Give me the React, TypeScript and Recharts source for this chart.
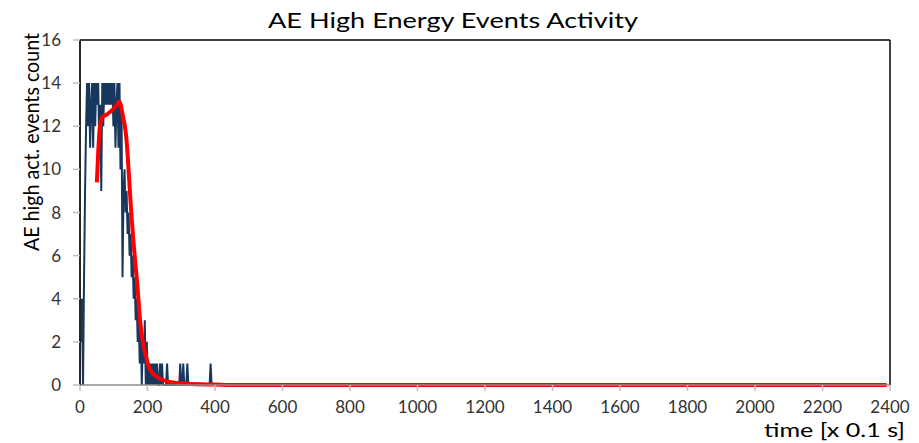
import React from 'react';
import { LineChart, Line, XAxis, YAxis, ReferenceLine, Label } from 'recharts';

// ---- data ----
const TITLE = 'AE High Energy Events Activity';
const Y_LABEL = 'AE high act. events count';
const X_LABEL = 'time [x 0.1 s]';

const xTicks = [0, 200, 400, 600, 800, 1000, 1200, 1400, 1600, 1800, 2000, 2200, 2400];
const yTicks = [0, 2, 4, 6, 8, 10, 12, 14, 16];

// raw counts, one sample every BLUE_STEP time units starting at t = 0
const BLUE_STEP = 3;
const blueCounts = [
  4, 2, 4, 0, 5, 9, 12, 14, 12, 14,
  11, 13, 14, 11, 14, 12, 14, 13, 14, 11,
  13, 9, 14, 12, 14, 13, 14, 13, 14, 13,
  14, 13, 14, 12, 14, 11, 13, 14, 11, 14,
  10, 13, 5, 9, 10, 8, 9, 7, 8, 6,
  7, 5, 6, 4, 5, 3, 4, 2, 3, 1,
  3, 0, 2, 1, 3, 0, 2, 0, 1, 0,
  1, 0, 1, 0, 1, 0, 1, 0, 0, 1,
  0, 1, 0, 0, 0, 0, 1, 0, 0, 0,
  0, 0, 0, 0, 0, 0, 0, 0, 0, 1,
  0, 0, 1, 0, 0, 0, 1, 0, 0, 0,
  0, 0, 0, 0, 0, 0, 0, 0, 0, 0,
  0, 0, 0, 0, 0, 0, 0, 0, 0, 1,
  0, 0, 0, 0, 0, 0, 0, 0, 0, 0,
  0,
];

// smoothed (moving average) trend
const redTimes = [50, 54, 58, 65, 80, 95, 110, 117, 122, 128, 133, 137, 141, 145, 151, 157, 163, 169, 174, 178, 184, 193, 208, 229, 267, 318, 400, 450, 2390];
const redValues = [9.4, 10.8, 11.8, 12.4, 12.55, 12.75, 13.0, 13.15, 12.9, 12.4, 12.0, 11.5, 10.7, 9.7, 8.2, 6.9, 5.8, 4.8, 3.8, 3.0, 2.2, 1.5, 0.7, 0.37, 0.14, 0.06, 0.02, 0, 0];

const blueData = blueCounts.map((v, i) => ({ t: i * BLUE_STEP, v }));
const redData = redTimes.map((t, i) => ({ t, v: redValues[i] }));

const FONT = 'Lato, "Open Sans", sans-serif';

export default function App() {
  return (
    <div style={{ position: 'absolute', left: 0, top: 0, width: 919, height: 443, background: '#ffffff' }}>
      <LineChart
        width={919}
        height={443}
        margin={{ top: 40, right: 29, bottom: 28, left: 0 }}
      >
        <XAxis
          type="number"
          dataKey="t"
          domain={[0, 2400]}
          ticks={xTicks}
          allowDataOverflow
          height={30}
          tickSize={6}
          tickMargin={10}
          tickLine={{ stroke: '#bfbfbf', strokeWidth: 1.5 }}
          axisLine={{ stroke: '#8c8c8c', strokeWidth: 1.5 }}
          tick={{ fill: '#333333', fontSize: 17, fontFamily: FONT }}
        >
          <Label
            content={() => (
              <text
                x={905}
                y={437}
                textAnchor="end"
                fontSize={19}
                fontFamily={FONT}
                fill="#000"
                textLength={141}
                lengthAdjust="spacingAndGlyphs"
              >
                {X_LABEL}
              </text>
            )}
          />
        </XAxis>
        <YAxis
          type="number"
          domain={[0, 16]}
          ticks={yTicks}
          width={80}
          tickSize={7}
          tickMargin={12}
          tickLine={{ stroke: '#bfbfbf', strokeWidth: 1.5 }}
          axisLine={{ stroke: '#262626', strokeWidth: 2 }}
          tick={{ fill: '#333333', fontSize: 17, fontFamily: FONT }}
        >
          <Label
            content={() => (
              <text
                transform="translate(30,142) rotate(-90)"
                textAnchor="middle"
                dominantBaseline="central"
                fontSize={21}
                fontFamily={FONT}
                fill="#000"
                textLength={218}
                lengthAdjust="spacingAndGlyphs"
              >
                {Y_LABEL}
              </text>
            )}
          />
        </YAxis>
        <ReferenceLine y={16} stroke="#000000" strokeWidth={1.5} />
        <ReferenceLine x={2400} stroke="#000000" strokeWidth={1.5} />
        <Line
          data={blueData}
          dataKey="v"
          type="linear"
          stroke="#17375e"
          strokeWidth={2}
          dot={false}
          isAnimationActive={false}
        />
        <Line
          data={redData}
          dataKey="v"
          type="monotone"
          stroke="#ff0000"
          strokeWidth={4}
          dot={false}
          isAnimationActive={false}
        />
      </LineChart>
      <svg width={919} height={40} style={{ position: 'absolute', left: 0, top: 0 }}>
        <text
          x={453}
          y={28}
          textAnchor="middle"
          fontSize={22}
          fontFamily={FONT}
          fill="#000"
          textLength={370}
          lengthAdjust="spacingAndGlyphs"
        >
          {TITLE}
        </text>
      </svg>
    </div>
  );
}
